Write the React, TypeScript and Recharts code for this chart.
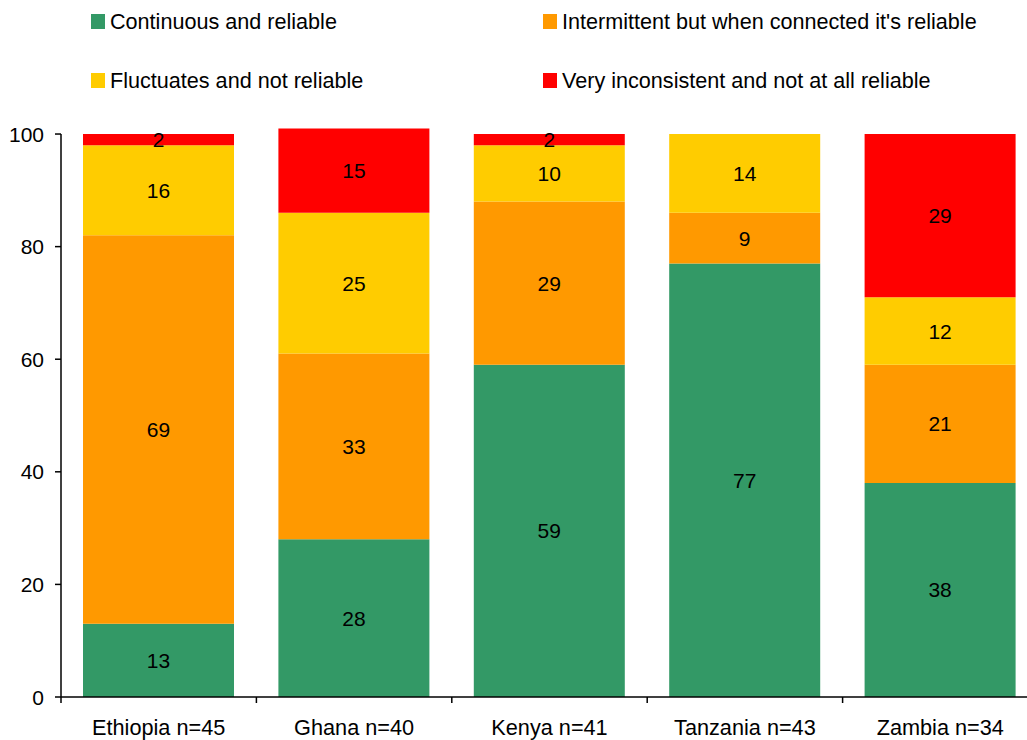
import { BarChart, Bar, XAxis, YAxis, LabelList } from 'recharts'

const countries = ['Ethiopia n=45', 'Ghana n=40', 'Kenya n=41', 'Tanzania n=43', 'Zambia n=34']
const continuous = [13, 28, 59, 77, 38]
const intermittent = [69, 33, 29, 9, 21]
const fluctuates = [16, 25, 10, 14, 12]
const inconsistent = [2, 15, 2, null, 29]
const yTicks = [0, 20, 40, 60, 80, 100]
const yMax = 101 // Ghana sums to 101 and pokes above the 100 line

const series = [
  { key: 'continuous', name: 'Continuous and reliable', color: '#339966' },
  { key: 'intermittent', name: "Intermittent but when connected it's reliable", color: '#FF9900' },
  { key: 'fluctuates', name: 'Fluctuates and not reliable', color: '#FFCC00' },
  { key: 'inconsistent', name: 'Very inconsistent and not at all reliable', color: '#FF0000' },
]

const data = countries.map((c, i) => ({
  country: c,
  continuous: continuous[i],
  intermittent: intermittent[i],
  fluctuates: fluctuates[i],
  inconsistent: inconsistent[i],
}))

const FONT = '"Liberation Sans", Arial, sans-serif'

// x ticks: label under the bar, tick mark on the left edge of each band
const XTick = (props: any) => {
  const { x, y, payload } = props
  const half = payload.offset || 97.6
  return (
    <g>
      <line x1={x - half} x2={x - half} y1={y - 8} y2={y - 2} stroke="#000" strokeWidth={1.5} />
      <text x={x} y={y + 30} textAnchor="middle" fill="#000" fontSize={21.7} fontFamily={FONT}>
        {payload.value}
      </text>
    </g>
  )
}

// y ticks: the top tick also draws the axis line down to 0, so the line stops at 100
const YTick = (props: any) => {
  const { x, y, payload, scale, height } = props
  let bottom = y + (height * 100) / yMax
  if (typeof scale === 'function') bottom = scale(0)
  else if (scale && typeof scale.map === 'function') bottom = scale.map(0)
  return (
    <g>
      {payload.value === 100 && (
        <line x1={x + 8} x2={x + 8} y1={y} y2={bottom} stroke="#000" strokeWidth={1.5} />
      )}
      <text x={x - 9} y={y} dy="0.36em" textAnchor="end" fill="#000" fontSize={21} fontFamily={FONT}>
        {payload.value}
      </text>
    </g>
  )
}

const legendPos = [
  { left: 91, top: 14 },
  { left: 543, top: 14 },
  { left: 91, top: 73 },
  { left: 543, top: 73 },
]

export default function App() {
  return (
    <div style={{ position: 'absolute', left: 0, top: 0, width: 1027, height: 740, overflow: 'hidden', background: '#fff' }}>
      {series.map((s, i) => (
        <div
          key={s.key}
          style={{ position: 'absolute', left: legendPos[i].left, top: legendPos[i].top, display: 'flex', alignItems: 'center', height: 15 }}
        >
          <div style={{ width: 14, height: 15, background: s.color }} />
          <span style={{ marginLeft: 5, fontFamily: FONT, fontSize: 21.6, color: '#000', whiteSpace: 'nowrap', lineHeight: '15px' }}>
            {s.name}
          </span>
        </div>
      ))}
      <div style={{ position: 'absolute', left: 0, top: 0 }}>
        <BarChart width={1040} height={740} data={data} margin={{ top: 128.4, right: 2, bottom: 0, left: 0 }} barSize={151}>
          <XAxis
            dataKey="country"
            height={43}
            axisLine={{ stroke: '#000', strokeWidth: 1.5 }}
            tickLine={false}
            tick={<XTick />}
            interval={0}
          />
          <YAxis
            width={61}
            domain={[0, yMax]}
            ticks={yTicks}
            axisLine={false}
            tickLine={{ stroke: '#000', strokeWidth: 1.5 }}
            tickSize={6}
            tick={<YTick />}
          />
          {series.map((s) => (
            <Bar key={s.key} dataKey={s.key} stackId="a" fill={s.color} isAnimationActive={false}>
              <LabelList dataKey={s.key} position="center" fill="#000" fontSize={21} fontFamily={FONT} />
            </Bar>
          ))}
        </BarChart>
      </div>
    </div>
  )
}
